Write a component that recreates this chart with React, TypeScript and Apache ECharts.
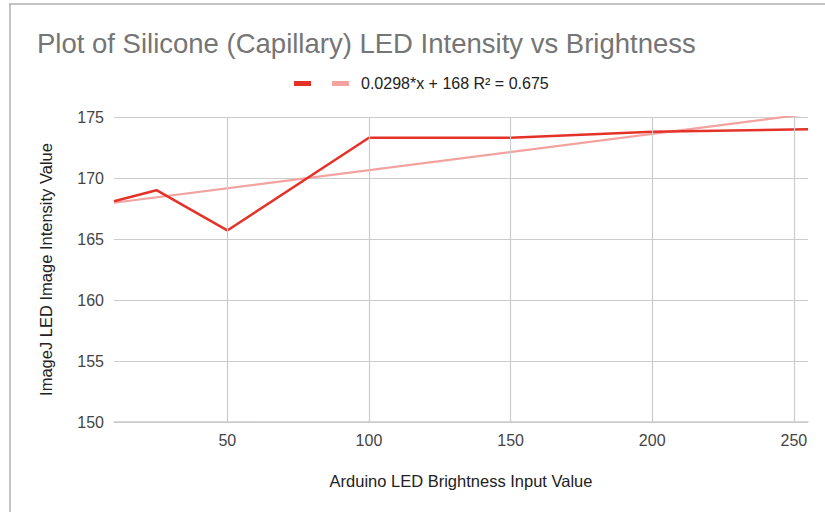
import React, { useEffect, useRef } from "react";
import * as echarts from "echarts";

const titleText = "Plot of Silicone (Capillary) LED Intensity vs Brightness";
const xAxisTitle = "Arduino LED Brightness Input Value";
const yAxisTitle = "ImageJ LED Image Intensity Value";
const trendLabel = "0.0298*x + 168 R\u00b2 = 0.675";

const brightness = [10, 25, 50, 100, 150, 200, 255];
const intensity = [168.1, 169.0, 165.7, 173.3, 173.3, 173.8, 174.0];
const xTicks = [50, 100, 150, 200, 250];

function fitLine(xs: number[], ys: number[]) {
  const n = xs.length;
  const mx = xs.reduce((a, b) => a + b, 0) / n;
  const my = ys.reduce((a, b) => a + b, 0) / n;
  let sxy = 0;
  let sxx = 0;
  for (let i = 0; i < n; i++) {
    sxy += (xs[i] - mx) * (ys[i] - my);
    sxx += (xs[i] - mx) * (xs[i] - mx);
  }
  const slope = sxy / sxx;
  return { slope, intercept: my - slope * mx };
}

export default function App() {
  const ref = useRef<HTMLDivElement>(null);

  useEffect(() => {
    if (!ref.current) return;
    const chart = echarts.init(ref.current, undefined, { renderer: "svg" });
    const { slope, intercept } = fitLine(brightness, intensity);
    const x0 = brightness[0];
    const x1 = brightness[brightness.length - 1];
    const trend = [
      [x0, slope * x0 + intercept],
      [x1, slope * x1 + intercept],
    ];
    const font = "Liberation Sans, Arial, sans-serif";

    chart.setOption({
      animation: false,
      backgroundColor: "#ffffff",
      textStyle: { fontFamily: font },
      title: {
        text: titleText,
        left: 32,
        top: 24,
        textStyle: { fontSize: 27.5, fontWeight: "normal", color: "#757575", fontFamily: font },
      },
      graphic: [
        { type: "line", shape: { x1: 9, y1: 4, x2: 825, y2: 4 }, style: { stroke: "#b0b0b0", lineWidth: 1.5 } },
        { type: "line", shape: { x1: 10, y1: 4, x2: 10, y2: 512 }, style: { stroke: "#b0b0b0", lineWidth: 1.5 } },
        { type: "rect", shape: { x: 294, y: 81, width: 17, height: 5 }, style: { fill: "#e53228" } },
        { type: "rect", shape: { x: 332, y: 81, width: 17, height: 5 }, style: { fill: "#f2a3a0" } },
        {
          type: "text",
          x: 361,
          y: 83,
          style: { text: trendLabel, fontSize: 16, fill: "#222", fontFamily: font, verticalAlign: "middle" },
        },
      ],
      grid: { left: 114, right: 17, top: 117, bottom: 90 },
      xAxis: {
        type: "value",
        min: 10,
        max: 255,
        name: xAxisTitle,
        nameLocation: "middle",
        nameGap: 50,
        nameTextStyle: { fontSize: 16.5, color: "#222", fontFamily: font },
        axisLine: { show: true, lineStyle: { color: "#cccccc", width: 1.5 } },
        axisTick: { show: false, customValues: xTicks },
        axisLabel: { customValues: xTicks, fontSize: 16, color: "#444", margin: 10, fontFamily: font },
        splitLine: { show: false },
      },
      yAxis: {
        type: "value",
        min: 150,
        max: 175,
        interval: 5,
        name: yAxisTitle,
        nameLocation: "middle",
        nameGap: 60,
        nameTextStyle: { fontSize: 16.5, color: "#222", fontFamily: font },
        axisLine: { show: false },
        axisTick: { show: false },
        axisLabel: { fontSize: 16, color: "#444", margin: 10, fontFamily: font },
        splitLine: { show: true, lineStyle: { color: "#cccccc", width: 1.2 } },
      },
      series: [
        {
          type: "line",
          name: "grid",
          data: [],
          silent: true,
          markLine: {
            symbol: "none",
            silent: true,
            label: { show: false },
            lineStyle: { color: "#cccccc", type: "solid", width: 1.2 },
            data: xTicks.map((v) => ({ xAxis: v })),
          },
        },
        {
          type: "line",
          name: "trend",
          data: trend,
          symbol: "none",
          lineStyle: { color: "#f2a3a0", width: 2.2 },
          z: 3,
        },
        {
          type: "line",
          name: "data",
          data: brightness.map((x, i) => [x, intensity[i]]),
          symbol: "none",
          lineStyle: { color: "#e53228", width: 2.5 },
          z: 4,
        },
      ],
    });

    return () => chart.dispose();
  }, []);

  return (
    <div
      ref={ref}
      style={{ position: "fixed", left: 0, top: 0, width: 825, height: 512, background: "#fff" }}
    />
  );
}
